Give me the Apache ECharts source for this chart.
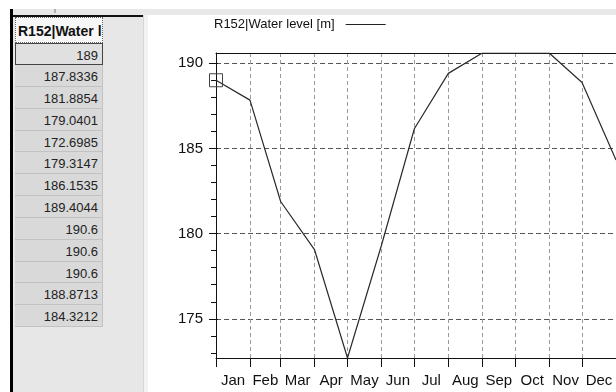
<!DOCTYPE html>
<html>
<head>
<meta charset="utf-8">
<script src="https://cdn.jsdelivr.net/npm/echarts@6/dist/echarts.min.js"></script>
<style>
  html, body { margin: 0; padding: 0; background: #fff; }
  body { width: 616px; height: 392px; position: relative; overflow: hidden;
         font-family: "Liberation Sans", Arial, sans-serif; }
  #chart { position: absolute; left: 0; top: 0; width: 616px; height: 392px; }
  .topbar { position: absolute; left: 10px; top: 9px; width: 606px; height: 6px; background: #e8e8e8; }
  .grip { position: absolute; left: 54px; top: 9px; width: 2px; height: 4px; background: #b0b0b0; }
  .panel { position: absolute; left: 12px; top: 15px; width: 131px; height: 377px;
           background: #e7e7e7; border-top: 2px solid #111; box-sizing: border-box; }
  .edge { position: absolute; left: 10px; top: 9px; width: 3px; height: 383px; background: #000; }
  .split { position: absolute; left: 143px; top: 15px; width: 5px; height: 377px;
           background: #f3f3f3; border-left: 1px solid #d6d6d6; box-sizing: border-box; }
  .head { position: absolute; left: 15px; top: 17px; width: 88px; height: 26px; box-sizing: border-box;
          background: #f7f7f7; border: 1px dotted #666; font-weight: bold; font-size: 14px;
          line-height: 27px; padding-left: 2px; white-space: nowrap; overflow: hidden; color: #111; }
  .cell { position: absolute; left: 15px; width: 88px; box-sizing: border-box;
          background: #d9d9d9; border-right: 1px solid #c2c2c2; border-bottom: 1px solid #c2c2c2;
          font-size: 13px; text-align: right; padding-right: 4px; color: #222; }
  .cell.sel { background: #e0e0e0; border: 1px solid #444; }
</style>
</head>
<body>
<div id="chart"></div>
<div class="topbar"></div>
<div class="grip"></div>
<div class="panel"></div>
<div class="split"></div>
<div class="edge"></div>
<div class="head" id="head"></div>
<div id="cells"></div>
<script>
// Station R152 water level, sampled on the first day of each month
const seriesName = 'R152|Water level [m]';
const columnTitle = 'R152|Water l';
const sampleDates = ['2001-01-01', '2001-02-01', '2001-03-01', '2001-04-01', '2001-05-01',
                     '2001-06-01', '2001-07-01', '2001-08-01', '2001-09-01', '2001-10-01',
                     '2001-11-01', '2001-12-01', '2002-01-01'];
const waterLevel = [189, 187.8336, 181.8854, 179.0401, 172.6985, 179.3147, 186.1535,
                    189.4044, 190.6, 190.6, 190.6, 188.8713, 184.3212];
const monthNames = ['Jan', 'Feb', 'Mar', 'Apr', 'May', 'Jun', 'Jul', 'Aug', 'Sep', 'Oct', 'Nov', 'Dec'];
const yTickLabels = [175, 180, 185, 190];

// ---- data table on the left ----
document.getElementById('head').textContent = columnTitle;
const cellsBox = document.getElementById('cells');
const rowTop = 43.3, rowH = 21.83;
waterLevel.forEach((v, i) => {
  const d = document.createElement('div');
  d.className = 'cell' + (i === 0 ? ' sel' : '');
  d.style.top = (rowTop + i * rowH) + 'px';
  d.style.height = rowH + 'px';
  d.style.lineHeight = (rowH + 3) + 'px';
  d.textContent = String(v);
  cellsBox.appendChild(d);
});

// ---- chart ----
// x is a millisecond timestamp on a linear axis, so month widths follow the calendar
const times = sampleDates.map(s => Date.parse(s + 'T00:00:00Z'));
const tMin = times[0];
const tMax = times[times.length - 1];
const monthMids = times.slice(0, -1).map((t, i) => (t + times[i + 1]) / 2);
const yMin = Math.min(...waterLevel);
const yMax = Math.max(...waterLevel);
const yMinor = [];
for (let v = Math.ceil(yMin); v <= Math.floor(yMax); v++) {
  if (yTickLabels.indexOf(v) < 0) yMinor.push(v);
}

const font = '"Liberation Sans", Arial, sans-serif';
const axisColor = '#111';

const points = times.map((t, i) => {
  const item = { value: [t, waterLevel[i]] };
  if (i === 0) {
    item.symbol = 'rect';
    item.symbolSize = 13;
    item.itemStyle = { color: 'rgba(0,0,0,0)', borderColor: '#444', borderWidth: 1 };
  }
  return item;
});

const chart = echarts.init(document.getElementById('chart'), null, { renderer: 'canvas' });
chart.setOption({
  animation: false,
  backgroundColor: 'transparent',
  textStyle: { fontFamily: font },
  legend: {
    data: [seriesName],
    left: 214, top: 18, padding: 0,
    align: 'right',
    icon: 'rect', itemWidth: 40, itemHeight: 1,
    itemStyle: { color: '#222' },
    textStyle: { fontFamily: font, fontSize: 13, color: '#111', padding: [0, 6, 0, 0] }
  },
  grid: { left: 216, top: 53, right: -1, bottom: 34, containLabel: false },
  xAxis: [
    {
      type: 'value', min: tMin, max: tMax, position: 'bottom',
      axisLine: { onZero: false, lineStyle: { color: axisColor, width: 1 } },
      axisTick: { show: true, length: 9, customValues: times, lineStyle: { color: axisColor } },
      axisLabel: { show: false },
      splitLine: { show: true, lineStyle: { color: '#999', width: 1, type: [4, 3] } }
    },
    {
      type: 'value', min: tMin, max: tMax, position: 'bottom',
      axisLine: { show: false, onZero: false },
      axisTick: { show: false },
      splitLine: { show: false },
      axisLabel: {
        customValues: monthMids, margin: 15, fontSize: 15, color: '#111', fontFamily: font,
        formatter: v => monthNames[new Date(v).getUTCMonth()]
      }
    },
    {
      type: 'value', min: tMin, max: tMax, position: 'top',
      axisLine: { onZero: false, lineStyle: { color: axisColor, width: 1 } },
      axisTick: { show: false }, axisLabel: { show: false }, splitLine: { show: false }
    }
  ],
  yAxis: [
    {
      type: 'value', min: yMin, max: yMax, position: 'left',
      axisLine: { show: true, onZero: false, lineStyle: { color: axisColor, width: 1 } },
      axisTick: { show: true, length: 7, customValues: yTickLabels, lineStyle: { color: axisColor } },
      axisLabel: { customValues: yTickLabels, margin: 13, fontSize: 15, color: '#111', fontFamily: font },
      splitLine: { show: true, lineStyle: { color: '#555', width: 1, type: [5, 3] } }
    },
    {
      type: 'value', min: yMin, max: yMax, position: 'left',
      axisLine: { show: false, onZero: false },
      axisTick: { show: true, length: 5, customValues: yMinor, lineStyle: { color: axisColor } },
      axisLabel: { show: false },
      splitLine: { show: false }
    },
    {
      // short inner stubs so the major ticks cross the axis line
      type: 'value', min: yMin, max: yMax, position: 'left',
      axisLine: { show: false, onZero: false },
      axisTick: { show: true, inside: true, length: 2, customValues: yTickLabels, lineStyle: { color: axisColor } },
      axisLabel: { show: false },
      splitLine: { show: false }
    }
  ],
  series: [{
    name: seriesName,
    type: 'line',
    xAxisIndex: 0, yAxisIndex: 0,
    data: points,
    symbol: 'none',
    showSymbol: true,
    showAllSymbol: true,
    color: '#222',
    lineStyle: { color: '#2a2a2a', width: 1.2 },
    emphasis: { disabled: true }
  }]
});
</script>
</body>
</html>
